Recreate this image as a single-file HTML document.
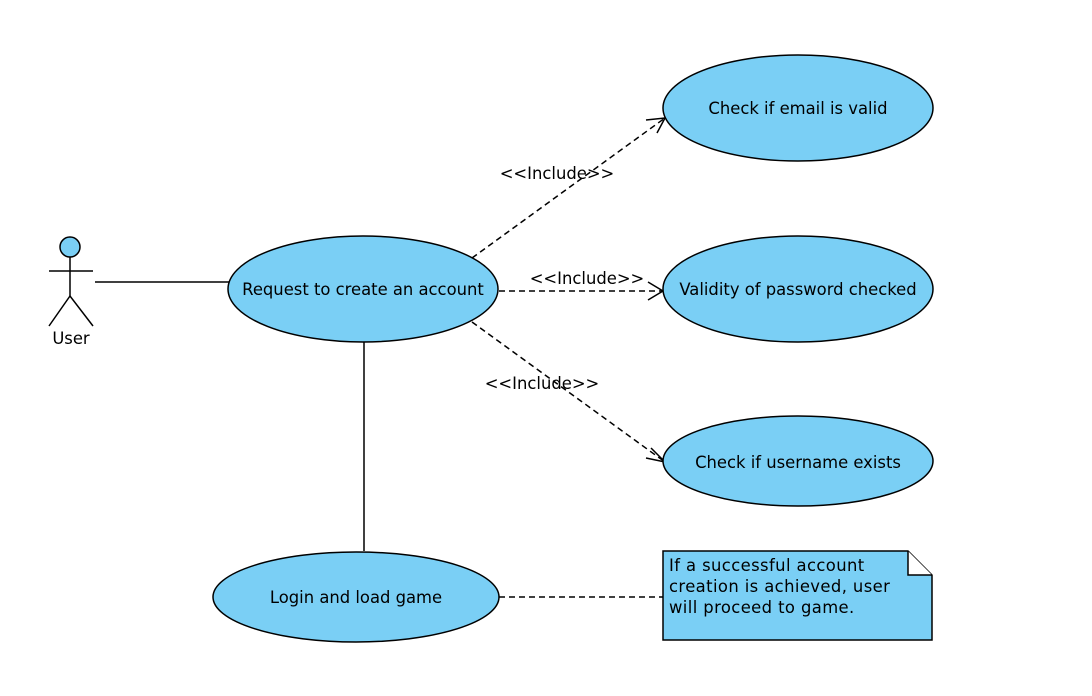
<!DOCTYPE html>
<html><head><meta charset="utf-8"><style>
html,body{margin:0;padding:0;background:#fff;}
svg text{font-family:"DejaVu Sans","Liberation Sans",sans-serif;font-size:16.4px;fill:#000;}
</style></head><body>
<svg width="1092" height="691" viewBox="0 0 1092 691" xmlns="http://www.w3.org/2000/svg">
<rect width="1092" height="691" fill="#fff"/>
<g stroke="#000" stroke-width="1.5" fill="none">
<line x1="95" y1="282" x2="229" y2="282"/>
<line x1="364" y1="342" x2="364" y2="551"/>
<g stroke-dasharray="6,4">
<line x1="472" y1="258" x2="665" y2="118"/>
<line x1="499" y1="291" x2="663" y2="291"/>
<line x1="472" y1="322" x2="665" y2="462"/>
<line x1="499" y1="597" x2="663" y2="597"/>
</g>
<polyline points="646,120 665,118 657,133"/>
<polyline points="648,282 663,291 648,300"/>
<polyline points="651,448 665,462 646,458"/>
</g>
<g fill="#7acff5" stroke="#000" stroke-width="1.5">
<ellipse cx="798" cy="108" rx="135" ry="53"/>
<ellipse cx="363" cy="289" rx="135" ry="53"/>
<ellipse cx="798" cy="289" rx="135" ry="53"/>
<ellipse cx="798" cy="461" rx="135" ry="45"/>
<ellipse cx="356" cy="597" rx="143" ry="45"/>
<path d="M663,551 H908 L932,575 V640 H663 Z"/>
<path d="M908,551 V575 H932" fill="#fff"/>
<circle cx="70" cy="247" r="10"/>
</g>
<g stroke="#000" stroke-width="1.5" fill="none">
<line x1="70" y1="257" x2="70" y2="296"/>
<line x1="49" y1="271" x2="93" y2="271"/>
<polyline points="49,326 70,296 93,326"/>
</g>
<text x="71" y="344" text-anchor="middle">User</text>
<text x="798" y="114" text-anchor="middle">Check if email is valid</text>
<text x="363" y="295" text-anchor="middle">Request to create an account</text>
<text x="798" y="295" text-anchor="middle">Validity of password checked</text>
<text x="798" y="468" text-anchor="middle">Check if username exists</text>
<text x="356" y="603" text-anchor="middle">Login and load game</text>
<text x="557" y="179" text-anchor="middle">&lt;&lt;Include&gt;&gt;</text>
<text x="587" y="284" text-anchor="middle">&lt;&lt;Include&gt;&gt;</text>
<text x="542" y="389" text-anchor="middle">&lt;&lt;Include&gt;&gt;</text>
<g style="letter-spacing:0.4px">
<text x="669" y="571">If a successful account</text>
<text x="669" y="592">creation is achieved, user</text>
<text x="669" y="613">will proceed to game.</text>
</g>
</svg>
</body></html>
